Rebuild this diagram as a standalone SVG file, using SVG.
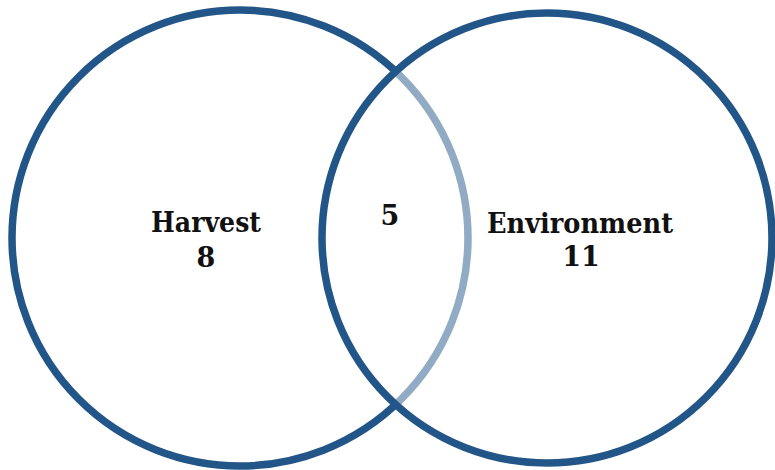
<svg xmlns="http://www.w3.org/2000/svg" width="775" height="470" viewBox="0 0 775 470">
  <style>
    .ring { stroke: #235688; stroke-width: 7.5; }
    .label { font-family: "DejaVu Serif", "Liberation Serif", serif; font-weight: bold; font-size: 27px; fill: #111111; text-anchor: middle; }
  </style>
  <rect width="775" height="470" fill="#ffffff"/>
  <!-- Harvest set -->
  <g id="harvest">
    <circle class="ring" cx="240" cy="238" r="228" fill="none"/>
  </g>
  <!-- Environment set: translucent white fill softens the overlapped arc -->
  <g id="environment">
    <circle class="ring" cx="547" cy="238" r="225" fill="#ffffff" fill-opacity="0.5"/>
  </g>
  <g id="labels">
    <text class="label" x="206" y="232" textLength="110" lengthAdjust="spacingAndGlyphs">Harvest</text>
    <text class="label" x="206" y="267">8</text>
    <text class="label" x="390" y="225">5</text>
    <text class="label" x="580" y="233" textLength="186" lengthAdjust="spacingAndGlyphs">Environment</text>
    <text class="label" x="581" y="266">11</text>
  </g>
</svg>
